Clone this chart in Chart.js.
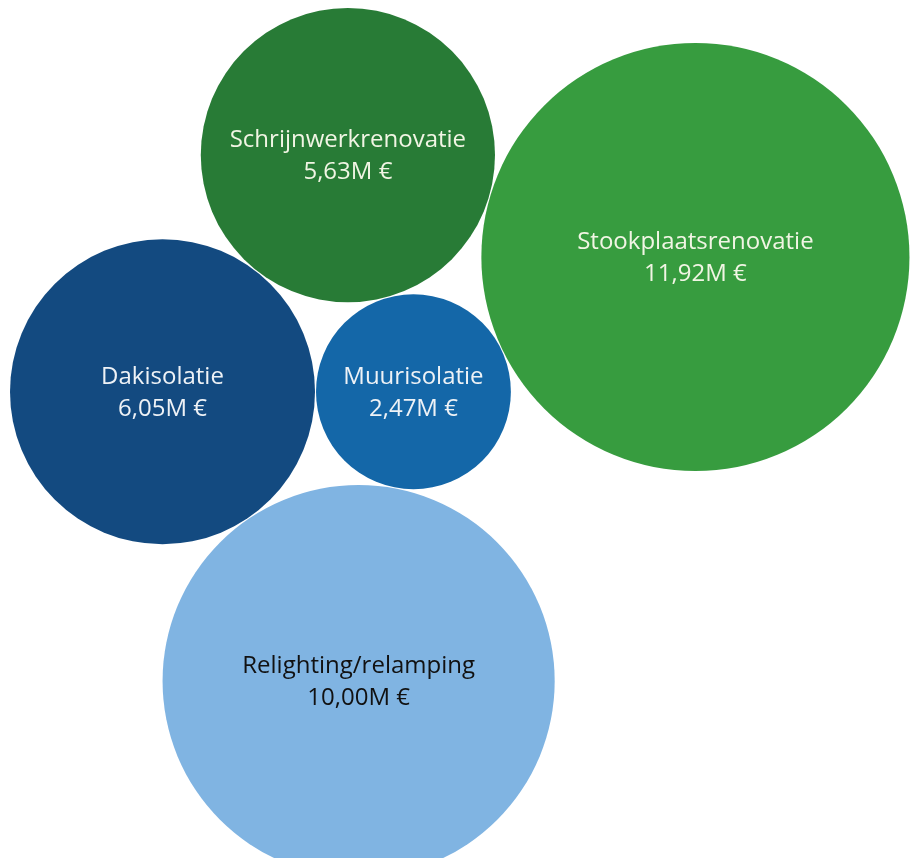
<!DOCTYPE html>
<html>
<head>
<meta charset="utf-8">
<script src="https://cdn.jsdelivr.net/npm/chart.js@4.4.1/dist/chart.umd.min.js"></script>
<style>
  html, body { margin: 0; padding: 0; background: #ffffff; }
  #wrap { width: 913px; height: 858px; }
</style>
</head>
<body>
<div id="wrap"><canvas id="bubbleChart"></canvas></div>
<script>
// Investment per measure (million euro)
const categories = ['Dakisolatie', 'Muurisolatie', 'Schrijnwerkrenovatie', 'Stookplaatsrenovatie', 'Relighting/relamping'];
const amounts = [6.05, 2.47, 5.63, 11.92, 10.00];
const bubbleColors = ['#134a80', '#1467a8', '#287b36', '#379c3f', '#80b4e2'];
const labelColors = ['#eef2f6', '#eef2f6', '#f1f5e4', '#f1f5e4', '#111111'];

const W = 913, H = 858;
const scaleK = 62;   // px per sqrt(M€) -> bubble area follows value
const gap = 1;

// place a circle of radius r touching circles a and b; side picks which of the two spots
function touchBoth(a, b, r, side) {
    const dA = a.r + r + gap, dB = b.r + r + gap;
    const dx = b.x - a.x, dy = b.y - a.y;
    const d = Math.sqrt(dx * dx + dy * dy);
    const along = (dA * dA - dB * dB + d * d) / (2 * d);
    const h = Math.sqrt(Math.max(0, dA * dA - along * along));
    const ux = dx / d, uy = dy / d;
    return {
        x: a.x + along * ux - side * h * uy,
        y: a.y + along * uy + side * h * ux,
        r: r
    };
}

// y grows downwards here (screen direction)
function packBubbles() {
    const radii = amounts.map(v => scaleK * Math.sqrt(v));
    const c = [];
    c[0] = { x: 0, y: 0, r: radii[0] };
    c[1] = { x: radii[0] + radii[1] + gap, y: 0, r: radii[1] };
    c[2] = touchBoth(c[0], c[1], radii[2], -1);  // above the two blue ones
    c[3] = touchBoth(c[2], c[1], radii[3], -1);  // to the right
    c[4] = touchBoth(c[0], c[1], radii[4], 1);   // below
    const minX = Math.min(...c.map(p => p.x - p.r));
    const minY = Math.min(...c.map(p => p.y - p.r));
    return c.map(p => ({ x: p.x - minX + 10, y: p.y - minY + 8, r: p.r }));
}

const packed = packBubbles();
// bubble charts reserve the largest radius as padding round the chart area;
// shift the scale range so that one unit is one pixel of the canvas
const pad = Math.max(...packed.map(p => p.r));

const bubbleLabels = {
    id: 'bubbleLabels',
    afterDatasetsDraw(chart) {
        const ctx = chart.ctx;
        const meta = chart.getDatasetMeta(0);
        ctx.save();
        ctx.textAlign = 'center';
        ctx.textBaseline = 'middle';
        ctx.font = '24px "Open Sans", "Noto Sans", sans-serif';
        meta.data.forEach((el, i) => {
            ctx.fillStyle = labelColors[i];
            ctx.fillText(categories[i], el.x, el.y - 15);
            ctx.fillText(amounts[i].toFixed(2).replace('.', ',') + 'M \u20ac', el.x, el.y + 17);
        });
        ctx.restore();
    }
};

new Chart(document.getElementById('bubbleChart'), {
    type: 'bubble',
    data: {
        datasets: [{
            label: 'Investering',
            data: packed,
            backgroundColor: bubbleColors,
            borderWidth: 0,
            hoverBorderWidth: 0,
            clip: false
        }]
    },
    options: {
        responsive: true,
        maintainAspectRatio: false,
        animation: false,
        layout: { padding: 0 },
        plugins: {
            legend: { display: false },
            tooltip: { enabled: false }
        },
        scales: {
            x: { type: 'linear', min: pad, max: W - pad, display: false },
            y: { type: 'linear', min: pad, max: H - pad, reverse: true, display: false }
        }
    },
    plugins: [bubbleLabels]
});
</script>
</body>
</html>
